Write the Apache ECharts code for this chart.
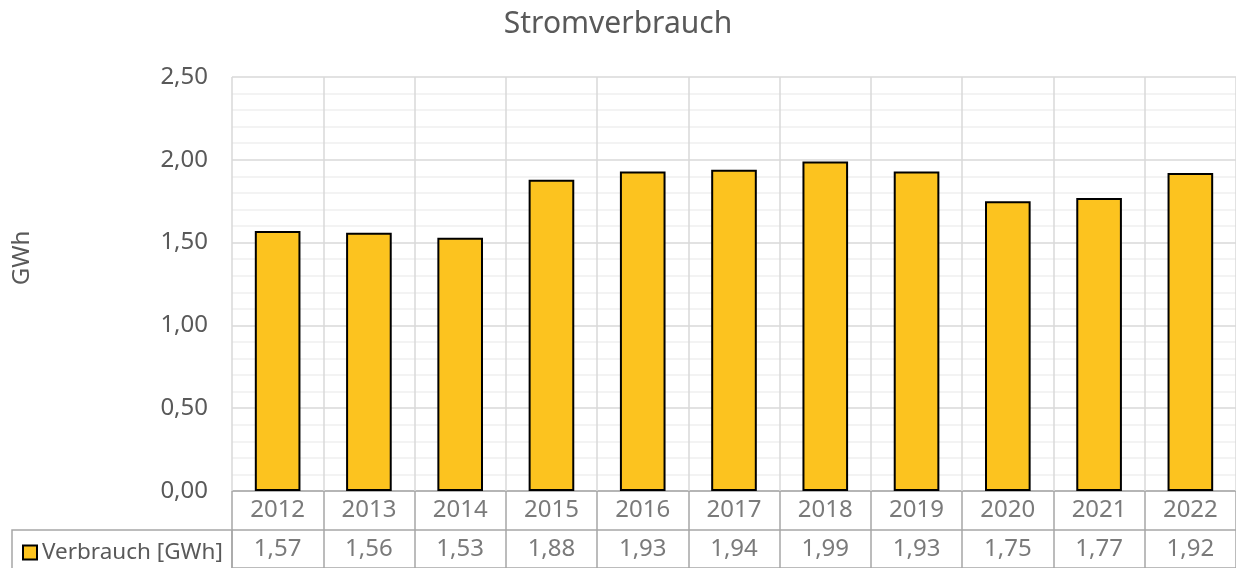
<!DOCTYPE html>
<html>
<head>
<meta charset="utf-8">
<script src="https://cdn.jsdelivr.net/npm/echarts@6/dist/echarts.min.js"></script>
<style>
  html, body { margin: 0; padding: 0; background: #fff; }
  #chart { width: 1236px; height: 568px; }
</style>
</head>
<body>
<div id="chart"></div>
<script>
const years = ['2012', '2013', '2014', '2015', '2016', '2017', '2018', '2019', '2020', '2021', '2022']
const verbrauch = [1.57, 1.56, 1.53, 1.88, 1.93, 1.94, 1.99, 1.93, 1.75, 1.77, 1.92]
const tableRows = ['Jahr', 'Wert']
const seriesName = 'Verbrauch [GWh]'

const font = 'Noto Sans'
const textColor = '#595959'
const fmt = v => v.toFixed(2).replace('.', ',')

const chart = echarts.init(document.getElementById('chart'))

const option = {
  animation: false,
  title: {
    text: 'Stromverbrauch',
    left: 'center',
    top: 4,
    textStyle: { fontFamily: font, fontSize: 30, fontWeight: 'normal', color: textColor }
  },
  legend: {
    data: [seriesName],
    left: 17,
    top: 536,
    icon: 'rect',
    itemWidth: 14,
    itemHeight: 14,
    itemGap: 0,
    textStyle: { fontFamily: font, fontSize: 22.5, color: textColor }
  },
  grid: [
    { left: 232, right: -2, top: 77, bottom: 77 },
    { left: 232, right: -2, top: 491, height: 78 }
  ],
  xAxis: [
    {
      type: 'category',
      gridIndex: 0,
      data: years,
      axisLine: { show: false },
      axisTick: { show: false },
      axisLabel: { show: false },
      splitLine: { show: true, lineStyle: { color: '#D9D9D9', width: 1.5 } }
    },
    {
      type: 'category',
      gridIndex: 1,
      data: years,
      axisLine: { show: false },
      axisTick: { show: false },
      axisLabel: { show: false },
      splitLine: { show: true, lineStyle: { color: '#A6A6A6', width: 1.5 } }
    }
  ],
  yAxis: [
    {
      type: 'value',
      gridIndex: 0,
      min: 0,
      max: 2.5,
      interval: 0.5,
      axisLine: { show: false },
      axisTick: { show: false },
      axisLabel: {
        margin: 24,
        fontFamily: font,
        fontSize: 24,
        color: textColor,
        formatter: fmt
      },
      splitLine: { show: true, lineStyle: { color: '#D9D9D9', width: 1.5 } },
      minorTick: { show: false, splitNumber: 5 },
      minorSplitLine: { show: true, lineStyle: { color: '#F0F0F0', width: 1.5 } }
    },
    {
      type: 'category',
      gridIndex: 1,
      data: tableRows,
      inverse: true,
      axisLine: { show: false },
      axisTick: { show: false },
      axisLabel: { show: false },
      splitLine: { show: true, lineStyle: { color: '#A6A6A6', width: 1.5 } }
    }
  ],
  graphic: [
    {
      type: 'rect',
      shape: { x: 12, y: 530, width: 220, height: 60 },
      style: { fill: 'none', stroke: '#A6A6A6', lineWidth: 1.5 },
      z: 10
    },
    {
      // Achsentitel
      type: 'text',
      x: 22,
      y: 258,
      rotation: Math.PI / 2,
      style: {
        text: 'GWh',
        font: '24px "Noto Sans"',
        fill: textColor,
        align: 'center',
        verticalAlign: 'middle'
      }
    }
  ],
  series: [
    {
      name: seriesName,
      type: 'bar',
      xAxisIndex: 0,
      yAxisIndex: 0,
      barWidth: '50%',
      itemStyle: { color: '#FCC31F', borderColor: '#000', borderWidth: 2 },
      data: verbrauch
    },
    {
      name: 'years',
      type: 'scatter',
      xAxisIndex: 1,
      yAxisIndex: 1,
      silent: true,
      symbolSize: 1,
      itemStyle: { color: 'rgba(0,0,0,0)' },
      label: {
        show: true,
        position: 'inside',
        fontFamily: font,
        fontSize: 24,
        color: textColor,
        formatter: p => years[p.dataIndex]
      },
      data: years.map((y, i) => [i, 0])
    },
    {
      name: 'values',
      type: 'scatter',
      xAxisIndex: 1,
      yAxisIndex: 1,
      silent: true,
      symbolSize: 1,
      itemStyle: { color: 'rgba(0,0,0,0)' },
      label: {
        show: true,
        position: 'inside',
        fontFamily: font,
        fontSize: 24,
        color: textColor,
        formatter: p => fmt(verbrauch[p.dataIndex])
      },
      data: verbrauch.map((v, i) => [i, 1])
    }
  ]
}

chart.setOption(option)
</script>
</body>
</html>
